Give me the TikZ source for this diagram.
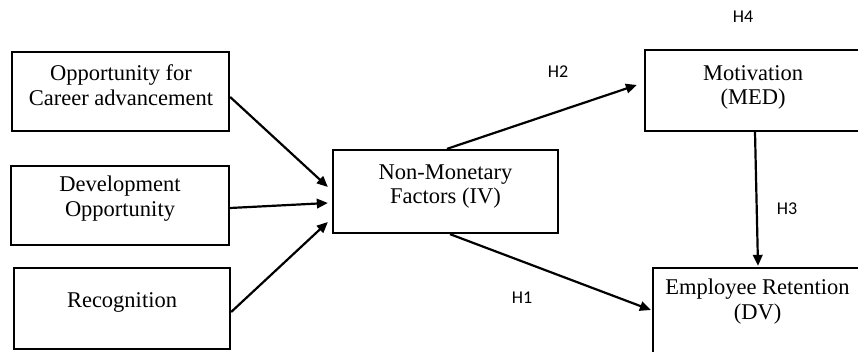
\documentclass[tikz,border=0pt]{standalone}
\usepackage{fontspec}
\setmainfont{Liberation Serif}
\newfontfamily\hfont{Carlito}
\usetikzlibrary{arrows.meta,calc}
\begin{document}
\begin{tikzpicture}[x=1pt,y=-1pt,
  box/.style={draw,line width=2.3pt,inner sep=0pt},
  txt/.style={align=center,font=\fontsize{22.5}{24.5}\selectfont,inner sep=0pt},
  hyp/.style={font=\hfont\fontsize{18}{20}\selectfont,inner sep=0pt},
  arr/.style={line width=2.2pt,-{Triangle[length=11pt,width=9.5pt]}}]
\useasboundingbox (0,0) rectangle (858,352);
\clip (0,0) rectangle (858,352);
% boxes
\node[box,minimum width=217pt,minimum height=79pt] (b1) at (120.5,91.5) {};
\node[box,minimum width=218pt,minimum height=79pt] (b2) at (120,205.5) {};
\node[box,minimum width=216pt,minimum height=81pt] (b3) at (122,308.5) {};
\node[box,minimum width=225pt,minimum height=83pt] (nm) at (445.5,191.5) {};
\node[box,minimum width=216pt,minimum height=81pt] (mot) at (753,90.5) {};
\node[box,minimum width=209pt,minimum height=86pt] (er) at (757.5,311) {};
% texts
\node[txt] (t1) at (121,85) {Opportunity for\\Career advancement};
\node[txt] (t2) at (120,198.5) {Development\\Opportunity};
\node[txt] (t3) at (122,302) {Recognition};
\node[txt] (t4) at (445.5,186.5) {Non-Monetary\\Factors (IV)};
\node[txt] (t5) at (753,87.5) {Motivation\\(MED)};
\node[txt] (t6) at (757.5,301.5) {Employee Retention\\(DV)};
% hypothesis labels
\node[hyp] (h4) at (743,17) {H4};
\node[hyp] (h2) at (558,72) {H2};
\node[hyp] (h3) at (787,209) {H3};
\node[hyp] (h1) at (522,298) {H1};
% arrows
\draw[arr] ($(b1.east)+(0,5.5)$) -- ($(nm.west)+(-4,-4.5)$);
\draw[arr] ($(b2.east)+(0,2.5)$) -- ($(nm.west)+(-4,11.5)$);
\draw[arr] ($(b3.east)+(0,3.5)$) -- ($(nm.west)+(-4,30.5)$);
\draw[arr] ($(nm.north)+(1.5,0)$) -- ($(mot.west)+(-7,-5.5)$);
\draw[arr] ($(nm.south)+(4.5,0)$) -- ($(er.west)+(-1,-1)$);
\draw[arr] ($(mot.south)+(2,0)$) -- ($(er.north)+(0.5,-1)$);
\end{tikzpicture}
\end{document}
